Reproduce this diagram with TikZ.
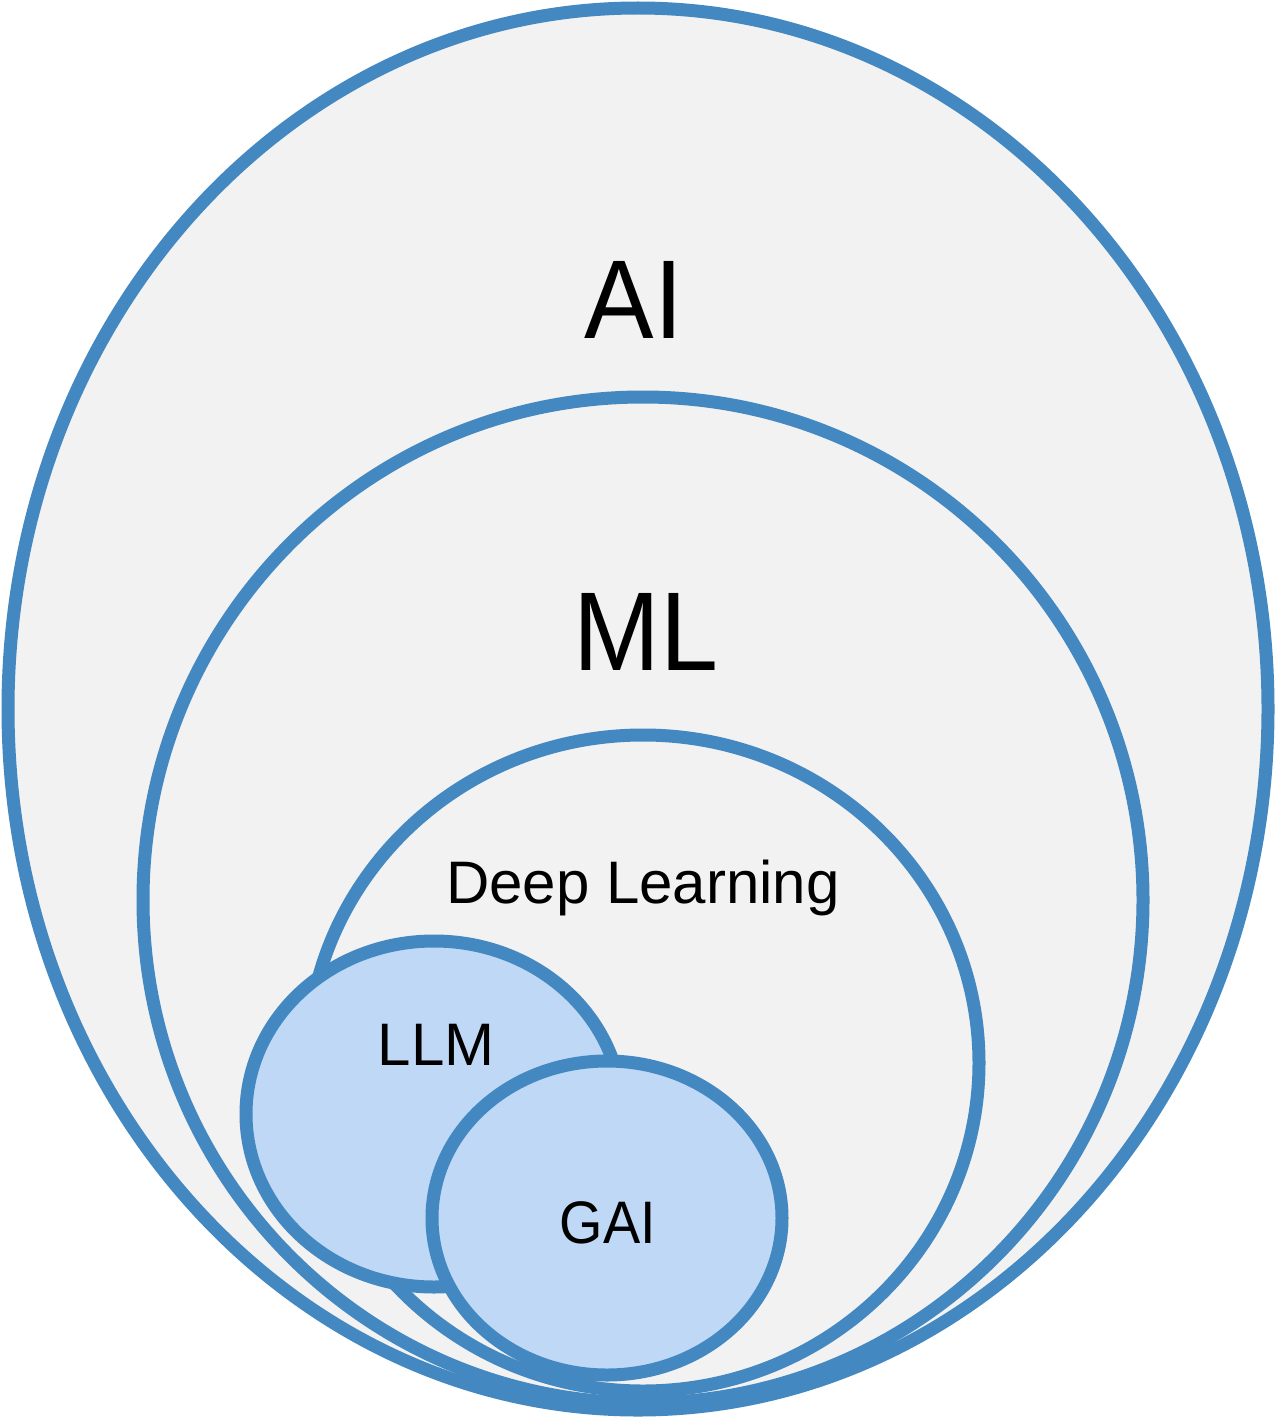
\documentclass[tikz,border=0pt]{standalone}
\usepackage{fontspec}
\setmainfont{Liberation Sans}
\newfontfamily\narrowfont[FakeStretch=0.93]{Liberation Sans}
\definecolor{ringblue}{HTML}{4488C2}
\definecolor{ringgray}{HTML}{F2F2F2}
\definecolor{ringlight}{HTML}{BED8F6}
\tikzset{
  ring/.style={draw=ringblue, line width=13pt, fill=ringgray},
  subring/.style={draw=ringblue, line width=13pt, fill=ringlight},
  lbl/.style={anchor=base, inner sep=0pt, text=black}
}
\begin{document}
\begin{tikzpicture}[x=1pt, y=-1pt]
\useasboundingbox (0,0) rectangle (1276,1418);
\path[ring] (638,709) ellipse [x radius=630, y radius=701];
\path[ring] (643,900) ellipse [x radius=500, y radius=503];
\path[ring] (643,1063) ellipse [x radius=336, y radius=328];
\path[subring] (434,1114) ellipse [x radius=188, y radius=173];
\path[subring] (607,1218) ellipse [x radius=175, y radius=157];
\node[lbl, font=\narrowfont\fontsize{112}{112}\selectfont] (ai) at (634,338) {AI};
\node[lbl, font=\narrowfont\fontsize{112}{112}\selectfont] (ml) at (646,670) {ML};
\node[lbl, font=\fontsize{60}{60}\selectfont] (dl) at (643,903) {Deep Learning};
\node[lbl, font=\fontsize{60}{60}\selectfont] (llm) at (436,1065) {LLM};
\node[lbl, font=\narrowfont\fontsize{60}{60}\selectfont] (gai) at (608,1243) {GAI};
\end{tikzpicture}
\end{document}
